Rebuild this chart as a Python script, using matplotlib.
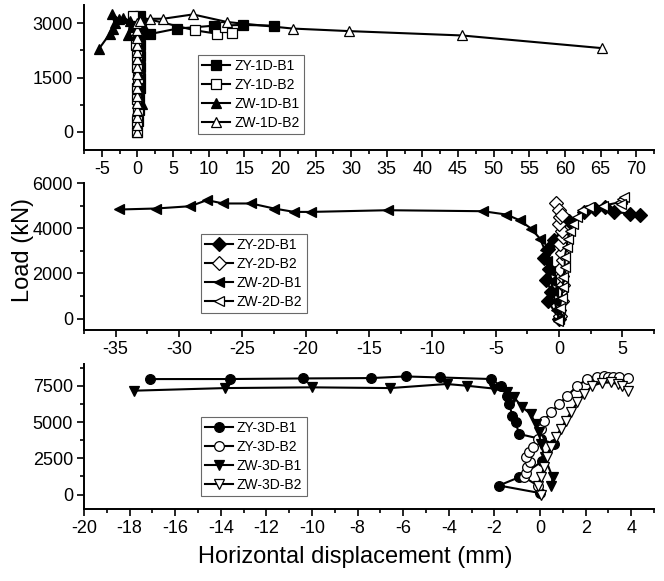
"""
Load vs horizontal displacement for the 1D / 2D / 3D specimens.
Three stacked panels sharing the y label, Origin-like styling.
"""

import matplotlib
matplotlib.use("Agg")
import matplotlib.pyplot as plt
from matplotlib.ticker import MultipleLocator

plt.rcParams['font.family'] = ['Liberation Sans', 'DejaVu Sans']
plt.rcParams['axes.unicode_minus'] = False

# ---- panel 1 (1D) ----
ZY_1D_B1_X = [0.1, 0.2, 0.2, 0.3, 0.3, 0.3, 0.4, 0.4, 0.4, 0.5, 0.3, 1.8, 5.6, 10.8, 14.8, 19.1]
ZY_1D_B1_Y = [300, 600, 900, 1200, 1500, 1800, 2100, 2400, 2700, 3000, 3200, 2700, 2850, 2930, 2950, 2930]
ZY_1D_B2_X = [0.0, -0.1, 0.1, -0.1, 0.0, 0.1, -0.1, 0.0, -0.2, -0.3, -0.6, 8.1, 11.1, 12.3, 13.3]
ZY_1D_B2_Y = [0, 300, 600, 900, 1200, 1500, 1800, 2100, 2400, 2800, 3210, 2800, 2710, 2880, 2720]
ZW_1D_B1_X = [0.7, 0.4, 0.2, 0.1, 0.0, -0.2, -0.6, -1.3, -1.0, -2.0, -2.6, -3.6, -3.2, -3.4, -3.9, -5.4]
ZW_1D_B1_Y = [770, 1200, 1600, 2000, 2400, 2700, 2900, 2660, 3050, 3150, 3100, 3260, 3000, 2850, 2700, 2290]
ZW_1D_B2_X = [0.0, -0.1, 0.0, -0.1, 0.0, -0.1, 0.0, -0.1, 0.0, -0.1, 0.0, -0.1, 0.0, -0.1, 0.0, -0.1,
              0.35, 1.7, 3.6, 7.8, 12.6, 21.8, 29.7, 45.5, 65.2]
ZW_1D_B2_Y = [0, 200, 400, 600, 800, 1000, 1200, 1400, 1600, 1800, 2000, 2200, 2400, 2600, 2800, 3000,
              3060, 3120, 3120, 3240, 3030, 2850, 2780, 2660, 2310]

# ---- panel 2 (2D) ----
ZY_2D_B1_X = [0.0, -0.9, -0.6, -1.0, -0.8, -1.2, -0.9, -0.4, 0.8, 2.0, 2.8, 3.6, 4.3, 5.6, 6.4]
ZY_2D_B1_Y = [0, 800, 1200, 1700, 2200, 2700, 3100, 3500, 4300, 4700, 4870, 4950, 4720, 4650, 4600]
ZY_2D_B2_X = [0.1, 0.0, 0.2, 0.1, 0.3, 0.2, 0.1, 0.3, 0.2, 0.1, 0.3, 0.2, 0.0, 0.1, -0.2, 0.0, 0.2]
ZY_2D_B2_Y = [100, 400, 800, 1200, 1500, 1900, 2200, 2600, 2900, 3300, 3600, 3900, 4200, 4500, 5100, 4800, 4600]
ZW_2D_B1_X = [0.0, -0.2, -0.34, -0.47, -0.6, -0.73, -0.95, -1.1, -1.5, -2.2, -3.1, -4.15, -6.0,
              -13.5, -19.6, -20.9, -22.5, -24.3, -26.5, -27.8, -29.1, -31.8, -34.7]
ZW_2D_B1_Y = [0, 400, 790, 1230, 1680, 2125, 2570, 3016, 3537, 3982, 4352, 4605, 4753,
              4797, 4722, 4722, 4873, 5095, 5095, 5243, 4975, 4873, 4829]
ZW_2D_B2_X = [-0.1, 0.05, 0.2, 0.3, 0.35, 0.45, 0.45, 0.6, 0.7, 0.85, 1.1, 1.4, 1.8, 2.4, 3.5, 4.8, 5.0, 5.1, 4.9]
ZW_2D_B2_Y = [-100, 490, 935, 1380, 1830, 2270, 2720, 3160, 3530, 3900, 4200, 4500, 4800, 4950, 5000,
              5150, 5300, 5400, 5050]

# ---- panel 3 (3D) ----
ZY_3D_B1_X = [0.0, -1.8, -0.92, 0.1, 0.6, 0.03, -0.92, -1.07, -1.21, -1.36, -1.43, -1.73, -2.14,
              -4.4, -5.9, -7.4, -10.4, -13.6, -17.1]
ZY_3D_B1_Y = [100, 620, 1190, 2300, 3490, 3830, 4175, 4976, 5437, 6242, 6813, 7502, 7963,
              8073, 8142, 8030, 8004, 7963, 7960]
ZY_3D_B2_X = [-0.1, -0.7, -0.6, -0.55, -0.45, -0.6, -0.5, -0.3, -0.1, 0.03, 0.18, 0.47, 0.84, 1.2,
              1.64, 2.08, 2.52, 2.8, 2.96, 3.2, 3.47, 3.84]
ZY_3D_B2_Y = [620, 1190, 1500, 1880, 2250, 2600, 2950, 3300, 3800, 4520, 5093, 5664, 6242, 6813,
              7502, 7963, 8121, 8150, 8121, 8090, 8073, 8004]
ZW_3D_B1_X = [0.5, 0.55, 0.2, 0.03, -0.04, -0.19, -0.41, -0.77, -1.14, -1.43, -2.0, -3.2, -4.1,
              -6.56, -10.0, -13.8, -17.8]
ZW_3D_B1_Y = [600, 1190, 2600, 3490, 4290, 4870, 5550, 6010, 6700, 7040, 7300, 7500, 7620,
              7340, 7390, 7340, 7160]
ZW_3D_B2_X = [0.03, -0.09, 0.03, 0.18, 0.32, 0.47, 0.69, 0.91, 1.13, 1.35, 1.64, 1.93, 2.3, 2.7,
              3.1, 3.4, 3.6, 3.84]
ZW_3D_B2_Y = [0, 620, 1190, 1880, 2570, 3256, 3944, 4520, 5093, 5664, 6352, 6930, 7502, 7700,
              7730, 7620, 7500, 7160]

PANELS = [
    {
        'rect': [0.1265, 0.7418, 0.8585, 0.2496],
        'xlim': (-7.5, 72.5), 'ylim': (-500, 3500),
        'xmajor': 5, 'ymajor': 1500,
        'legend_anchor': (0.2, 0.11),
        'series': [
            ('ZY-1D-B1', ZY_1D_B1_X, ZY_1D_B1_Y, 's', 'black'),
            ('ZY-1D-B2', ZY_1D_B2_X, ZY_1D_B2_Y, 's', 'white'),
            ('ZW-1D-B1', ZW_1D_B1_X, ZW_1D_B1_Y, '^', 'black'),
            ('ZW-1D-B2', ZW_1D_B2_X, ZW_1D_B2_Y, '^', 'white'),
        ],
    },
    {
        'rect': [0.1265, 0.4320, 0.8585, 0.2530],
        'xlim': (-37.5, 7.5), 'ylim': (-500, 6000),
        'xmajor': 5, 'ymajor': 2000,
        'legend_anchor': (0.205, 0.116),
        'series': [
            ('ZY-2D-B1', ZY_2D_B1_X, ZY_2D_B1_Y, 'D', 'black'),
            ('ZY-2D-B2', ZY_2D_B2_X, ZY_2D_B2_Y, 'D', 'white'),
            ('ZW-2D-B1', ZW_2D_B1_X, ZW_2D_B1_Y, '<', 'black'),
            ('ZW-2D-B2', ZW_2D_B2_X, ZW_2D_B2_Y, '<', 'white'),
        ],
    },
    {
        'rect': [0.1265, 0.1239, 0.8585, 0.2496],
        'xlim': (-20, 5), 'ylim': (-1000, 9000),
        'xmajor': 2, 'ymajor': 2500,
        'legend_anchor': (0.205, 0.092),
        'series': [
            ('ZY-3D-B1', ZY_3D_B1_X, ZY_3D_B1_Y, 'o', 'black'),
            ('ZY-3D-B2', ZY_3D_B2_X, ZY_3D_B2_Y, 'o', 'white'),
            ('ZW-3D-B1', ZW_3D_B1_X, ZW_3D_B1_Y, 'v', 'black'),
            ('ZW-3D-B2', ZW_3D_B2_X, ZW_3D_B2_Y, 'v', 'white'),
        ],
    },
]


def style_axes(ax, panel):
    ax.set_xlim(*panel['xlim'])
    ax.set_ylim(*panel['ylim'])
    ax.xaxis.set_major_locator(MultipleLocator(panel['xmajor']))
    ax.xaxis.set_minor_locator(MultipleLocator(panel['xmajor'] / 2))
    ax.yaxis.set_major_locator(MultipleLocator(panel['ymajor']))
    ax.yaxis.set_minor_locator(MultipleLocator(panel['ymajor'] / 2))
    ax.set_yticks([t for t in ax.get_yticks() if 0 <= t <= panel['ylim'][1]])
    ax.set_ylim(*panel['ylim'])
    for side in ('top', 'right'):
        ax.spines[side].set_visible(False)
    for side in ('left', 'bottom'):
        ax.spines[side].set_linewidth(1.4)
    ax.tick_params(which='both', direction='out', width=1.2, labelsize=13, pad=3)
    ax.tick_params(which='major', length=5)
    ax.tick_params(which='minor', length=3)


def plot_panel(fig, panel):
    ax = fig.add_axes(panel['rect'])
    for label, xs, ys, marker, face in panel['series']:
        ax.plot(xs, ys, color='black', linewidth=1.5, marker=marker, markersize=7,
                markerfacecolor=face, markeredgecolor='black', markeredgewidth=0.9,
                label=label, clip_on=False)
    style_axes(ax, panel)
    leg = ax.legend(loc='lower left', bbox_to_anchor=panel['legend_anchor'],
                    borderaxespad=0, fontsize=10, frameon=True, fancybox=False,
                    handlelength=2.0, handletextpad=0.3, borderpad=0.3,
                    labelspacing=0.35)
    leg.get_frame().set_edgecolor('#444444')
    leg.get_frame().set_linewidth(0.8)
    return ax


def main():
    fig = plt.figure(figsize=(6.64, 5.81), dpi=100)
    for panel in PANELS:
        plot_panel(fig, panel)
    fig.text(0.5345, 0.022, "Horizontal displacement (mm)", ha='center', va='bottom', fontsize=17)
    fig.text(0.035, 0.57, "Load (kN)", ha='center', va='center', rotation=90, fontsize=17)
    fig.savefig("out.png", dpi=100)
    print("Saved: out.png")


if __name__ == '__main__':
    main()
